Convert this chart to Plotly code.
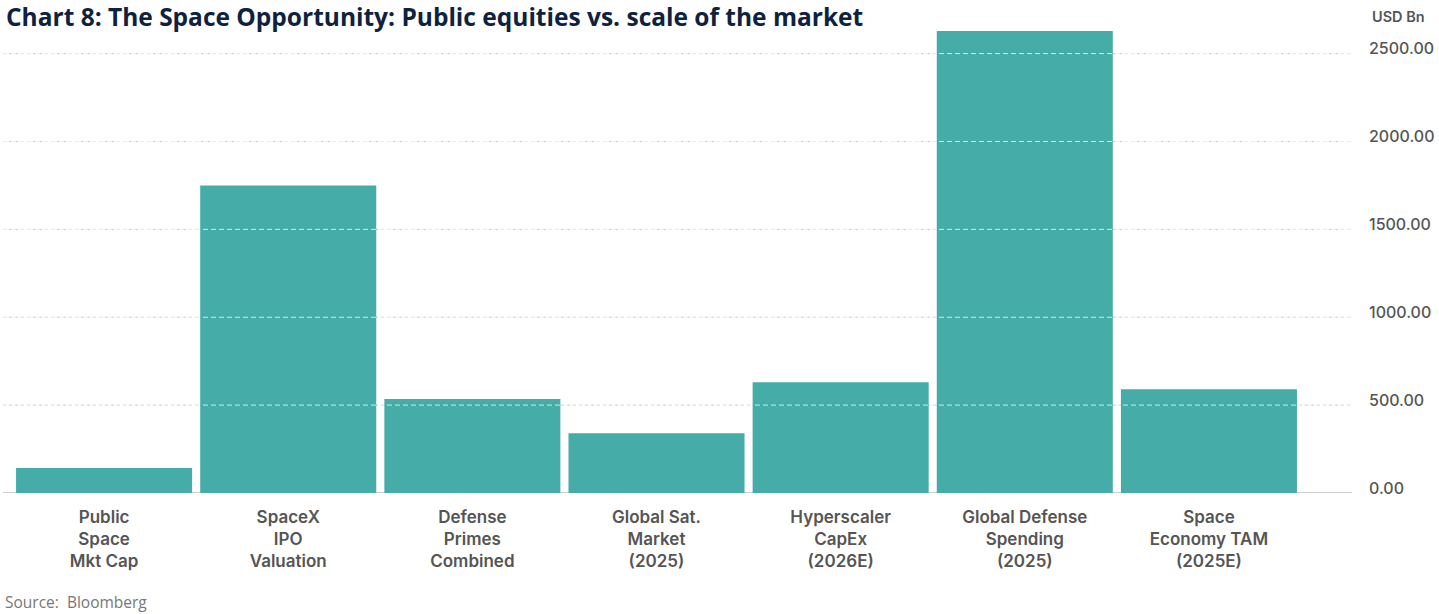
import plotly.graph_objects as go

categories = [
    "Public<br>Space<br>Mkt Cap",
    "SpaceX<br>IPO<br>Valuation",
    "Defense<br>Primes<br>Combined",
    "Global Sat.<br>Market<br>(2025)",
    "Hyperscaler<br>CapEx<br>(2026E)",
    "Global Defense<br>Spending<br>(2025)",
    "Space<br>Economy TAM<br>(2025E)",
]
values = [142, 1750, 535, 340, 630, 2628, 591]
y_ticks = [0, 500, 1000, 1500, 2000, 2500]
y_tick_labels = ["0.00", "500.00", "1000.00", "1500.00", "2000.00", "2500.00"]

TEAL = "#45aca7"
LABEL = "#555555"

fig = go.Figure(
    go.Bar(
        x=list(range(len(categories))),
        y=values,
        marker=dict(color=TEAL, line=dict(width=0)),
        hoverinfo="skip",
    )
)

shapes = []
for t in y_ticks[1:]:
    shapes.append(dict(
        type="line", xref="x domain", yref="y", x0=0, x1=1, y0=t, y1=t,
        line=dict(color="#c8c8c8", width=1, dash="dot"), layer="below",
    ))
    shapes.append(dict(
        type="line", xref="x domain", yref="y", x0=0, x1=1, y0=t, y1=t,
        line=dict(color="rgba(235,245,245,0.85)", width=1, dash="5px,3px"), layer="above",
    ))
shapes.append(dict(
    type="line", xref="x domain", yref="y", x0=0, x1=1, y0=0, y1=0,
    line=dict(color="#cccccc", width=2), layer="below",
))

fig.update_layout(
    width=1439, height=614,
    margin=dict(l=3, r=87, t=29, b=121),
    paper_bgcolor="white", plot_bgcolor="white",
    bargap=0.044,
    showlegend=False,
    shapes=shapes,
    xaxis=dict(
        range=[-0.549, 6.777],
        tickmode="array",
        tickvals=list(range(len(categories))),
        ticktext=categories,
        showgrid=False, zeroline=False, showline=False, ticks="",
        tickfont=dict(family="Inter", size=17, color=LABEL, weight=600),
        ticklabelstandoff=12,
    ),
    yaxis=dict(
        range=[0, 2640],
        side="right",
        tickmode="array",
        tickvals=y_ticks,
        ticktext=y_tick_labels,
        showgrid=False, zeroline=False, showline=False, ticks="",
        tickfont=dict(family="Inter", size=16, color=LABEL, weight=500),
        ticklabelstandoff=16,
        ticklabelshift=-5,
    ),
    annotations=[
        dict(
            text="<b>Chart 8: The Space Opportunity: Public equities vs. scale of the market</b>",
            xref="paper", yref="paper", x=0, y=1, xanchor="left", yanchor="middle",
            showarrow=False,
            font=dict(family="Open Sans", size=24.5, color="#0e2240"),
        ),
        dict(
            text="USD Bn", xref="paper", yref="paper", x=1, y=1, xanchor="left", yanchor="middle",
            showarrow=False,
            font=dict(family="Inter", size=14.5, color=LABEL, weight=600),
        ),
        dict(
            text="Source:  Bloomberg", xref="paper", yref="paper", x=0, y=0, xanchor="left", yanchor="middle",
            showarrow=False,
            font=dict(family="Open Sans", size=15.5, color="#777777"),
        ),
    ],
)

plot_h = 614 - 29 - 121
plot_w = 1439 - 3 - 87
def py(pix_y):
    return (614 - 121 - pix_y) / plot_h
def px(pix_x):
    return (pix_x - 3) / plot_w

anns = list(fig.layout.annotations)
anns[0].update(x=px(4), y=py(16))
anns[1].update(x=px(1370), y=py(17))
anns[2].update(x=px(3), y=py(602))
fig.layout.annotations = anns

fig.write_html("out.html")
